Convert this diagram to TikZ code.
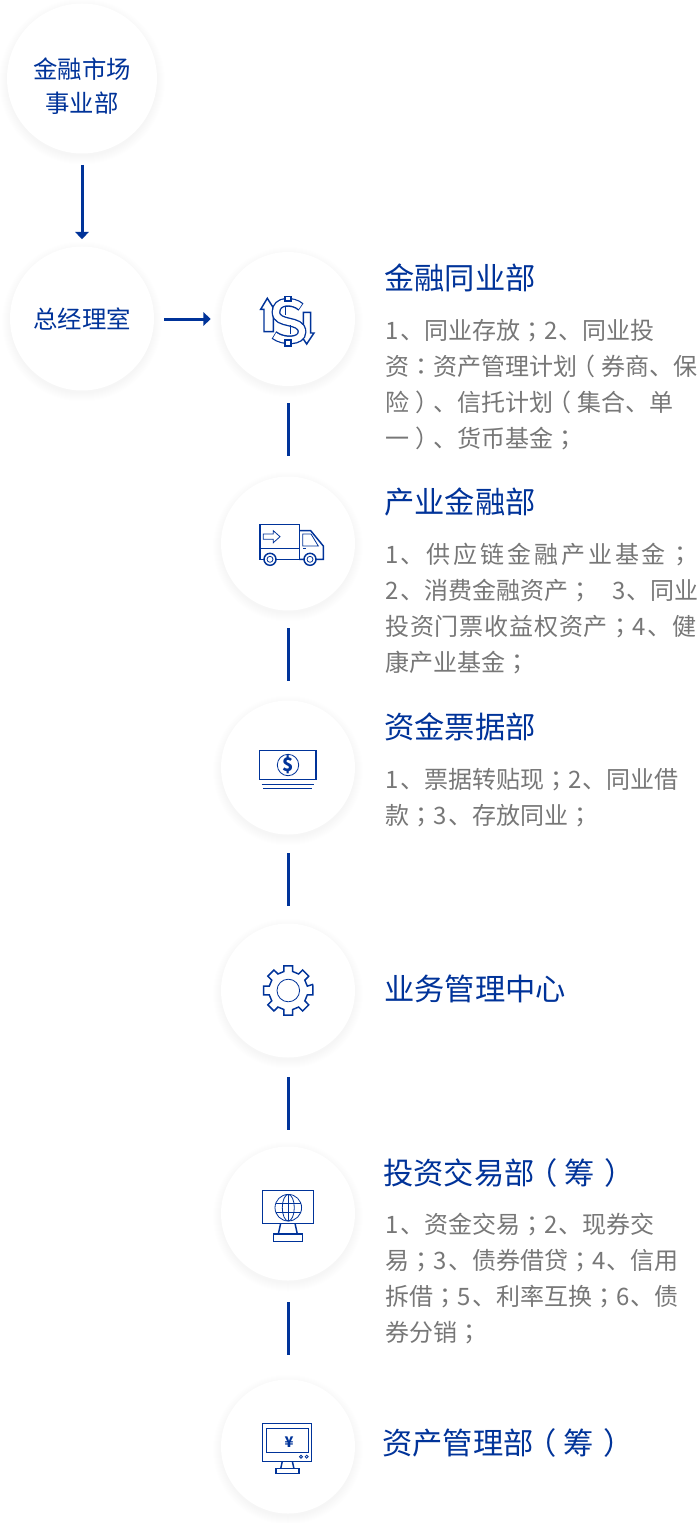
\documentclass[tikz,border=0pt]{standalone}
\usepackage{fontspec}
\usetikzlibrary{arrows.meta,calc}
\setmainfont{Noto Sans CJK SC}
\newfontfamily\tcfont{Noto Sans CJK TC}
\definecolor{brandblue}{HTML}{003399}
\definecolor{bodygrey}{HTML}{777777}
\newcommand{\SC}{{\tcfont ；}}
\newcommand{\CO}{{\tcfont ：}}
\newcommand{\LP}{\kern-.25em（\kern.25em}
\newcommand{\RP}{\kern.25em）\kern-.25em}
\newcommand{\RPT}{\kern.3em）\kern-.3em}
\newcommand{\LS}[2]{{\addfontfeature{LetterSpace=#1}#2}}
\newcommand{\fst}{\rule{0pt}{18pt}}
\newcommand{\dk}{\kern1.1pt}
\newcommand{\softcircle}[3]{%
  \foreach \k in {0,...,8}{\fill[black,opacity=0.0045] (#1,#2+3) circle ({#3+8-\k});}
  \fill[white] (#1,#2) circle (#3);}
\tikzset{
  x=0.75pt,y=-0.75pt,
  disc/.style={circle,inner sep=0pt,minimum size=#1*0.75pt,align=center,text=brandblue,font=\fontsize{18.3pt}{25.5pt}\selectfont},
  disclabel/.style={inner sep=0pt,align=center,text=brandblue,font=\fontsize{18.3pt}{25.5pt}\selectfont},
  title/.style={anchor=base west,inner sep=0pt,text=brandblue,font=\fontsize{22.7pt}{27pt}\selectfont},
  body/.style={anchor=north west,inner sep=0pt,align=left,text=bodygrey,font=\fontsize{18pt}{27pt}\selectfont},
  link/.style={draw=brandblue,line width=2.25pt},
  flow/.style={link,-{Triangle[length=5.5pt,width=10pt]}},
  ic/.style={draw=brandblue,line width=1.1pt,line join=miter},
  icthin/.style={draw=brandblue,line width=0.6pt},
}
\begin{document}
\begin{tikzpicture}
\useasboundingbox (0,0) rectangle (698,1523);
\fill[white] (0,0) rectangle (698,1523);
\softcircle{82}{78.5}{75}
\softcircle{82}{318.5}{72}
\softcircle{288}{319}{67}
\softcircle{288}{543.5}{67}
\softcircle{288}{767.5}{67}
\softcircle{288}{990.5}{67}
\softcircle{288}{1213.5}{67}
\softcircle{288}{1446.5}{67}

\node[disc=150] (c1) at (82,78.5) {};
\node[disclabel] (c1t) at (82,86.5) {金融市场\\事业部};
\node[disc=144] (c2) at (82,319) {总经理室};
\node[disc=134] (d1) at (288,319) {};
\node[disc=134] (d2) at (288,543.5) {};
\node[disc=134] (d3) at (288,767.5) {};
\node[disc=134] (d4) at (288,990.5) {};
\node[disc=134] (d5) at (288,1213.5) {};
\node[disc=134] (d6) at (288,1446.5) {};

\draw[flow,shorten <=8.25pt,shorten >=5.6pt] (c1) -- (c2);
\draw[flow,shorten <=7.5pt,shorten >=7.5pt] (c2) -- (d1);
\foreach \a/\b/\s/\e in {d1/d2/17/20.5,d2/d3/17.5/19.5,d3/d4/18.5/17.5,d4/d5/19.5/16.5,d5/d6/21.5/24.5}
  \draw[link,shorten <=\s*0.75pt,shorten >=\e*0.75pt] (\a) -- (\b);

% titles
\node[title] (t1) at (384,289) {金融同业部};
\node[title] (t2) at (384,513) {产业金融部};
\node[title] (t3) at (384,738) {资金票据部};
\node[title] (t4) at (384,1000) {业务管理中心};
\node[title] (t5) at (383,1184) {投资交易部\LP 筹\RPT};
\node[title] (t6) at (382,1454.5) {资产管理部\LP 筹\RPT};

% body
\node[body] (b1) at (385,315) {\fst 1\dk 、同业存放\SC 2\dk 、同业投\\资\CO 资产管理计划\LP 券商、保\\险\RP 、信托计划\LP 集合、单\\一\RP 、货币基金\SC};
\node[body] (b2) at (385,539) {\fst \LS{12}{1\dk 、供应链金融产业基金}\kern2.2pt\SC\\2\dk 、消费金融资产\SC\hspace{15pt}3\dk 、同业\\\LS{3.5}{投资门票收益权资产}\kern0.6pt\SC\LS{3.5}{4\dk 、健}\\康产业基金\SC};
\node[body] (b3) at (385,764) {\fst 1\dk 、票据转贴现\SC 2\dk 、同业借\\款\SC 3\dk 、存放同业\SC};
\node[body] (b5) at (385,1209) {\fst 1\dk 、资金交易\SC 2\dk 、现券交\\易\SC 3\dk 、债券借贷\SC 4\dk 、信用\\拆借\SC 5\dk 、利率互换\SC 6\dk 、债\\券分销\SC};

% icon: dollar with arrows
\draw[ic] (267.3,298.3)--(274.3,309.3)--(273.3,309.3)--(273.3,331.7)--(264,331.7)--(264,309.3)--(260.7,309.3)--cycle;
\draw[ic] (306.7,344)--(314,333)--(310.7,333)--(310.7,312.3)--(303.3,312.3)--(303.3,333)--(299.3,333)--cycle;
\draw[brandblue,line width=6.6pt] (301,307) .. controls (293,300) and (276,300) .. (276,312) .. controls (276,326) and (302,318) .. (302,332) .. controls (302,342) and (283,342) .. (274,335);
\draw[white,line width=4.6pt] (300.4,306.5) .. controls (293,300) and (276,300) .. (276,312) .. controls (276,326) and (302,318) .. (302,332) .. controls (302,342) and (283,342) .. (274.6,335.5);
\draw[ic,fill=white] (285,296.5) rectangle (291,301);
\draw[ic,fill=white] (285,340) rectangle (291,346);
\draw[ic] (285.5,307)--(285.5,315) (290.5,325)--(290.5,334);

% icon: truck
\draw[ic] (260,524.3) rectangle (299.3,559.3);
\draw[icthin] (260,548.3)--(299.3,548.3);
\draw[icthin] (263.3,534)--(273.3,534)--(273.3,530.7)--(280,536.7)--(273.3,542.7)--(273.3,539.3)--(263.3,539.3)--cycle;
\draw[ic] (299.3,530.7)--(310.7,530.7)--(323.3,546)--(323.3,559.3)--(299.3,559.3);
\draw[icthin] (302.7,534)--(311,534)--(318.3,546)--(302.7,546)--cycle;
\draw[icthin] (303.3,548.7)--(306,548.7);
\foreach \wx in {270,310}{
  \draw[ic,fill=white] (\wx,559.3) circle (6);
  \draw[icthin] (\wx,559.3) circle (3);
}

% icon: banknote
\draw[ic] (259.3,750.3) rectangle (316,779.3);
\draw[icthin] (288,765) circle (10.7);
\node[inner sep=0pt,text=brandblue,font=\fontsize{14pt}{14pt}\selectfont\bfseries] (s1) at (288,765) {\$};
\draw[ic] (261.7,784.3)--(314.3,784.3);
\draw[ic] (263.3,788.7)--(312.3,788.7);

% icon: gear
\draw[ic,shift={(288.3,990.5)}] (-14:25)
  \foreach \t in {0,45,...,315}{
    -- (\t-10:25) -- (\t+10:25) -- (\t+13:19.5) -- (\t+32:19.5)
  } -- cycle;
\draw[icthin] (288.3,990.5) circle (11.3);

% icon: globe monitor
\draw[ic] (262.7,1190.7) rectangle (313.3,1223.3);
\draw[icthin] (288.3,1207.7) circle (13.3);
\draw[icthin] (288.3,1207.7) ellipse (6 and 13.3);
\draw[icthin] (288.3,1194.4)--(288.3,1221);
\draw[icthin] (275.8,1203)--(300.8,1203) (275.8,1212.4)--(300.8,1212.4);
\draw[ic] (280.7,1223.3)--(278.3,1234) (295,1223.3)--(297.3,1234);
\draw[ic] (273.3,1234) rectangle (302.7,1241.3);

% icon: yen monitor
\draw[ic] (262.7,1423.7) rectangle (311.7,1461.3);
\draw[icthin] (266.7,1428.7) rectangle (308.3,1452.7);
\node[inner sep=0pt,text=brandblue,font=\fontsize{11pt}{11pt}\selectfont\bfseries] (s2) at (289,1442) {¥};
\draw[icthin] (301,1456.7) circle (1.5) (306.7,1456.7) circle (1.5);
\draw[ic] (282.3,1461.3)--(280.7,1468.7) (292.3,1461.3)--(294,1468.7);
\draw[ic] (276,1468.7) rectangle (299,1473.3);
\end{tikzpicture}
\end{document}
